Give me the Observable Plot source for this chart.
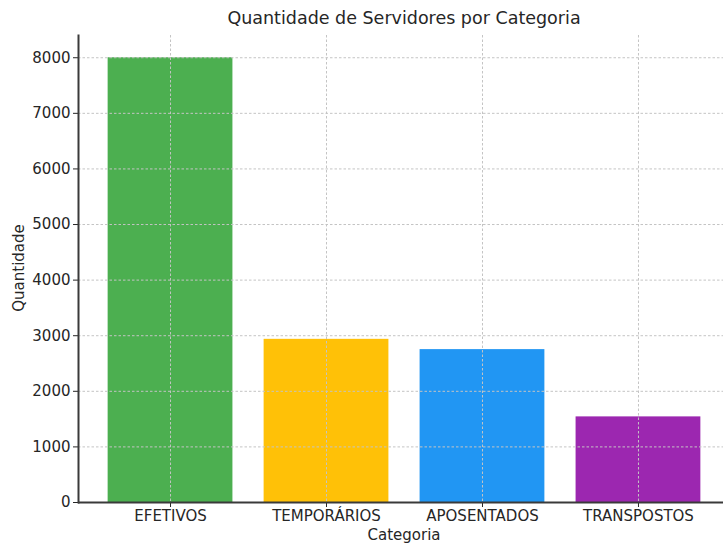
<!DOCTYPE html>
<html>
<head>
<meta charset="utf-8">
<script src="https://cdn.jsdelivr.net/npm/d3@7"></script>
<script src="https://cdn.jsdelivr.net/npm/@observablehq/plot@0.6"></script>
<style>
  html, body { margin: 0; padding: 0; background: #fff; }
  #wrap { position: relative; width: 723px; height: 544px; overflow: hidden; font-family: "DejaVu Sans", sans-serif; color: #262626; }
  #title { position: absolute; left: 78px; width: 652px; top: 8px; text-align: center; font-size: 17.5px; }
  #xlabel { position: absolute; left: 78px; width: 652px; top: 526px; text-align: center; font-size: 15px; }
  #ylabel { position: absolute; left: 19px; top: 268px; transform: translate(-50%, -50%) rotate(-90deg); font-size: 15px; white-space: nowrap; }
  svg { position: absolute; left: 0; top: 0; }
</style>
</head>
<body>
<div id="wrap">
  <div id="title">Quantidade de Servidores por Categoria</div>
  <div id="xlabel">Categoria</div>
  <div id="ylabel">Quantidade</div>
</div>
<script>
const categories = ["EFETIVOS", "TEMPORÁRIOS", "APOSENTADOS", "TRANSPOSTOS"];
const values = [8000, 2935, 2750, 1540];
const colors = ["#4CAF50", "#FFC107", "#2196F3", "#9C27B0"];
const yTicks = [0, 1000, 2000, 3000, 4000, 5000, 6000, 7000, 8000];

const data = categories.map((c, i) => ({categoria: c, quantidade: values[i]}));

const chart = Plot.plot({
  width: 723,
  height: 544,
  marginLeft: 78,
  marginRight: 0,
  marginTop: 35,
  marginBottom: 42,
  style: {fontFamily: "DejaVu Sans, sans-serif", fontSize: "15px", color: "#262626", background: "transparent"},
  x: {domain: categories, range: [78, 730], paddingInner: 0.2, paddingOuter: 0.19, round: false, label: null, tickSize: 5, tickPadding: 3},
  y: {domain: [0, 8400], ticks: yTicks, tickFormat: d3.format("d"), label: null, tickSize: 5, tickPadding: 3},
  color: {domain: categories, range: colors},
  marks: [
    Plot.barY(data, {x: "categoria", y: "quantidade", fill: "categoria"}),
    Plot.ruleY(yTicks, {stroke: "#c4c4c4", strokeDasharray: "2.5,2"}),
    Plot.ruleX(categories, {x: d => d, stroke: "#c4c4c4", strokeDasharray: "2.5,2"}),
    Plot.frame({anchor: "left", stroke: "#3a3a3a", strokeWidth: 2}),
    Plot.ruleY([0], {stroke: "#3a3a3a", strokeWidth: 2})
  ]
});
document.getElementById("wrap").appendChild(chart);
</script>
</body>
</html>
